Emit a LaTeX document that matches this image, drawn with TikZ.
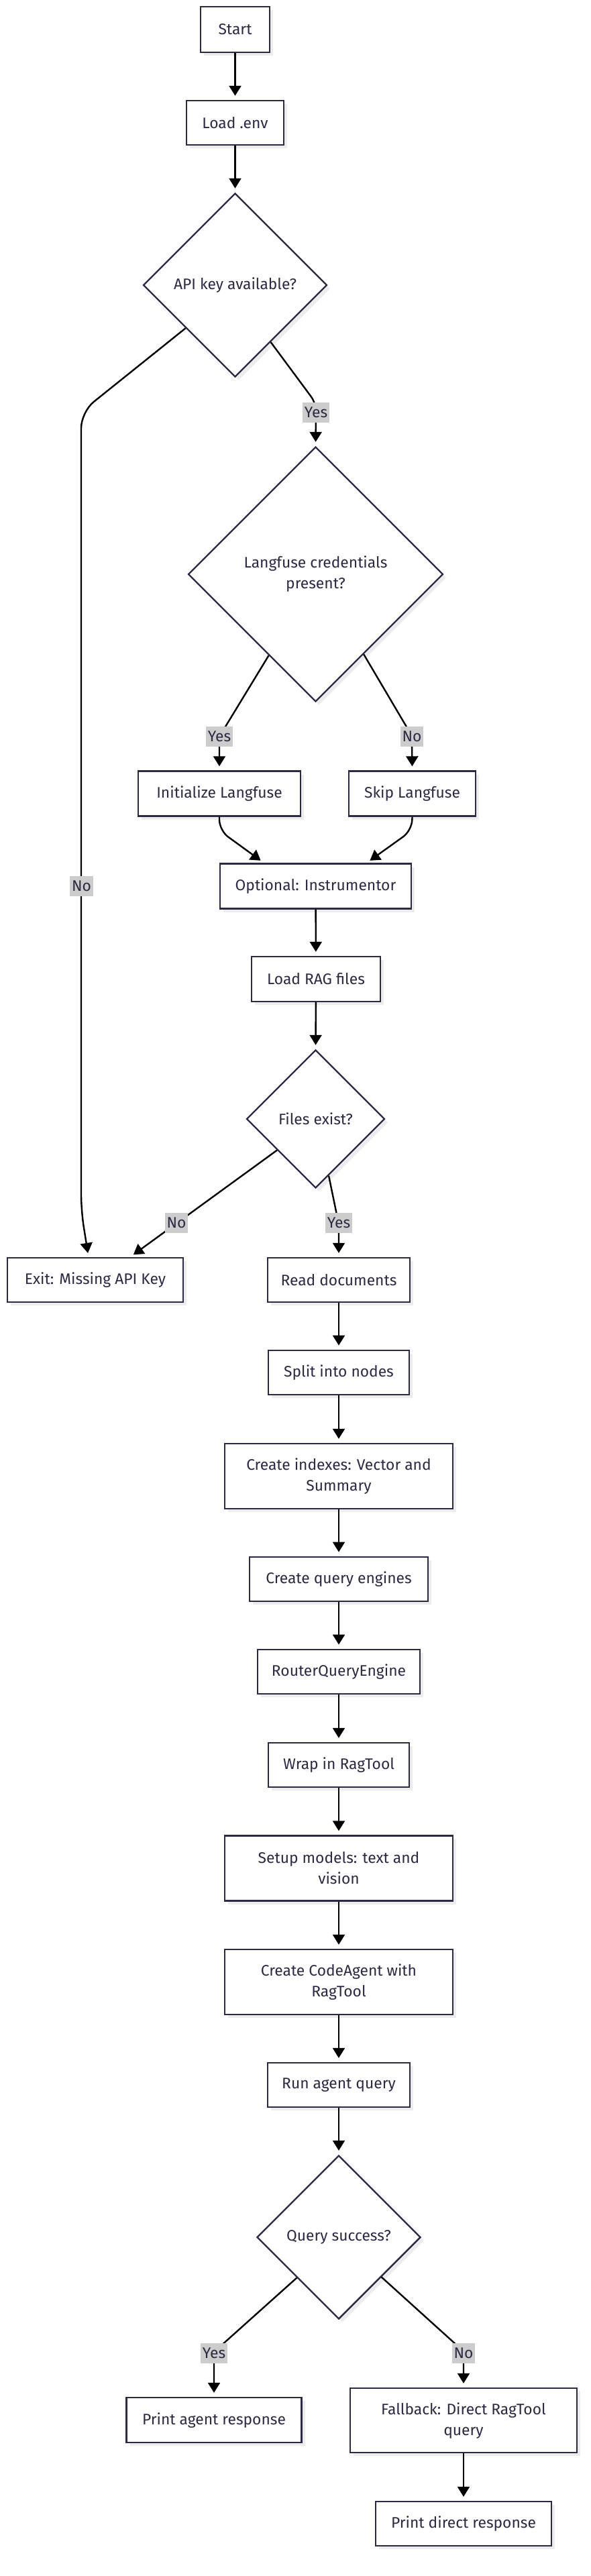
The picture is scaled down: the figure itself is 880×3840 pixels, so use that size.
\documentclass[tikz,border=0pt]{standalone}
\usepackage{fontspec}
\setmainfont{Fira Sans}
\usetikzlibrary{shapes.geometric,arrows.meta,shadows,calc}
\definecolor{ink}{RGB}{44,42,66}
\definecolor{shade}{RGB}{236,236,236}
\definecolor{lblbg}{RGB}{204,204,204}
\begin{document}
\begin{tikzpicture}[x=0.5pt,y=-0.5pt,
  every node/.style={font=\fontsize{11.4}{15.5}\selectfont, text=ink},
  shad/.style={drop shadow={shadow xshift=2.5pt, shadow yshift=-2.5pt, fill=shade, opacity=1}},
  box/.style 2 args={rectangle, draw=ink, line width=1.2pt, fill=white, minimum width=#1*0.5pt, minimum height=#2*0.5pt, inner sep=0pt, align=center, shad},
  dia/.style={diamond, aspect=1, draw=ink, line width=1.2pt, fill=white, minimum width=#1*0.5pt, minimum height=#1*0.5pt, inner sep=0pt, align=center, shad},
  edge/.style={draw=black, line width=1.2pt, -{Triangle[length=7.5pt,width=9pt]}, shorten >=3pt},
  lbl/.style={fill=lblbg, inner xsep=1.5pt, inner ysep=0pt, minimum height=15pt}
]
\useasboundingbox (0,0) rectangle (880,3840);
\fill[white] (0,0) rectangle (880,3840);

% nodes
\node[box={103}{68}] (start) at (350.5,44) {Start};
\node[box={145}{66}] (env) at (350.5,183) {Load .env};
\node[dia={274}] (api) at (350.5,425) {API key available?};
\node[dia={380}] (lang) at (470.5,856) {Langfuse credentials\\present?};
\node[box={241.5}{67}] (init) at (327,1183) {Initialize Langfuse};
\node[box={189}{67}] (skip) at (614.5,1183) {Skip Langfuse};
\node[box={285}{67}] (opt) at (470.5,1321) {Optional: Instrumentor};
\node[box={192}{67}] (rag) at (471,1459.5) {Load RAG files};
\node[dia={206}] (files) at (470.5,1668) {Files exist?};
\node[box={262}{66}] (exit) at (142,1908) {Exit: Missing API Key};
\node[box={211.5}{66}] (read) at (505,1908) {Read documents};
\node[box={210}{66.5}] (split) at (505,2046) {Split into nodes};
\node[box={340}{97}] (idx) at (505,2200.5) {Create indexes: Vector and\\Summary};
\node[box={265.5}{66.5}] (qe) at (505,2354) {Create query engines};
\node[box={242}{66.5}] (router) at (505,2492) {RouterQueryEngine};
\node[box={210}{66}] (wrap) at (505,2631) {Wrap in RagTool};
\node[box={340}{97}] (setup) at (505,2785) {Setup models: text and\\vision};
\node[box={340}{97}] (agent) at (505,2954.5) {Create CodeAgent with\\RagTool};
\node[box={212.5}{66}] (run) at (505,3108) {Run agent query};
\node[dia={244}] (qs) at (505,3335) {Query success?};
\node[box={261}{67}] (pagent) at (319,3607.5) {Print agent response};
\node[box={338}{96}] (fallback) at (691,3608) {Fallback: Direct RagTool\\query};
\node[box={262.5}{66}] (pdirect) at (691,3762) {Print direct response};

% bend points
\coordinate (b3) at (471,601);
\coordinate (b4a) at (121,614);
\coordinate (b4b) at (121,1805);
\coordinate (b5) at (327,1098);
\coordinate (b6) at (614,1097);
\coordinate (b7) at (327,1238);
\coordinate (b8) at (614,1238);
\coordinate (b12) at (505,1825);
\coordinate (b14) at (319,3506);
\coordinate (b15) at (691,3505);

% edges
\draw[edge] (start) -- (env);
\draw[edge] (env) -- (api.north);
\draw[edge, rounded corners=6pt] (api.-58) -- (b3) -- (lang.north);
\draw[edge, rounded corners=12pt] (api.-139) -- (b4a) -- (b4b) -- ($(exit.north)+(-10,0)$);
\draw[edge, rounded corners=6pt] (lang.-120) -- (b5) -- (init.north);
\draw[edge, rounded corners=6pt] (lang.-59) -- (b6) -- (skip.north);
\draw[edge, rounded corners=8pt] (init.south) -- (b7) -- ($(opt.north)+(-77,0)$);
\draw[edge, rounded corners=8pt] (skip.south) -- (b8) -- ($(opt.north)+(76,0)$);
\draw[edge] (opt) -- (rag);
\draw[edge] (rag) -- (files.north);
\draw[edge] (files.-141.6) -- ($(exit.north)+(52,0)$);
\draw[edge, rounded corners=6pt] (files.-77) -- (b12) -- (read.north);
\draw[edge] (read) -- (split);
\draw[edge] (split) -- (idx);
\draw[edge] (idx) -- (qe);
\draw[edge] (qe) -- (router);
\draw[edge] (router) -- (wrap);
\draw[edge] (wrap) -- (setup);
\draw[edge] (setup) -- (agent);
\draw[edge] (agent) -- (run);
\draw[edge] (run) -- (qs.north);
\draw[edge, rounded corners=6pt] (qs.-136) -- (b14) -- (pagent.north);
\draw[edge, rounded corners=6pt] (qs.-43) -- (b15) -- (fallback.north);
\draw[edge] (fallback) -- (pdirect);

% edge labels
\node[lbl] (l3) at (471,615) {Yes};
\node[lbl] (l4) at (121.5,1321) {No};
\node[lbl] (l5) at (327,1098) {Yes};
\node[lbl] (l6) at (614,1098) {No};
\node[lbl] (l11) at (263,1823) {No};
\node[lbl] (l12) at (505,1823) {Yes};
\node[lbl] (l14) at (319,3508) {Yes};
\node[lbl] (l15) at (691,3508) {No};
\end{tikzpicture}
\end{document}
